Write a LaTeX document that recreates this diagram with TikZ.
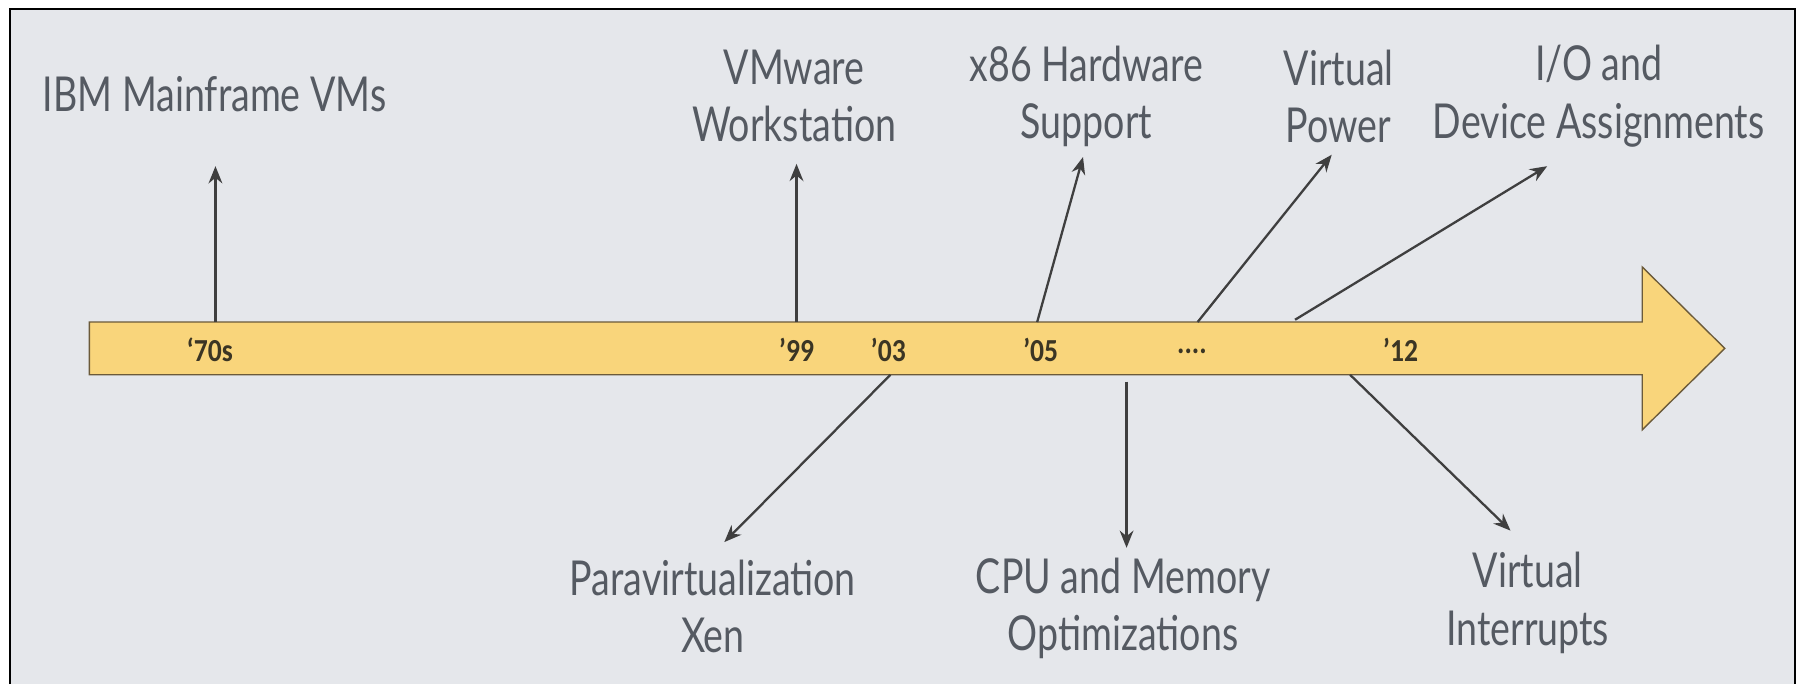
\documentclass[tikz,border=0pt]{standalone}
\usepackage{fontspec}
\setmainfont{Lato}[FakeStretch=0.78]
\newfontfamily\tickfont{Carlito}[FakeStretch=0.86]
\usetikzlibrary{arrows.meta}
\definecolor{bgc}{HTML}{E5E7EB}
\definecolor{barfill}{HTML}{F9D57B}
\definecolor{barline}{HTML}{6B5A3A}
\definecolor{labc}{HTML}{555A62}
\definecolor{conc}{HTML}{3F3F3F}
\definecolor{tickc}{HTML}{3B3524}
\tikzset{
  lab/.style={text=labc, align=center, inner sep=0pt, font=\fontsize{21}{25}\selectfont},
  ticklab/.style={text=tickc, inner sep=0pt, font=\tickfont\bfseries\fontsize{14}{16}\selectfont},
  conn/.style={draw=conc, line width=1pt, -{Stealth[length=7.5pt,width=6pt]}}
}
\begin{document}
\begin{tikzpicture}[x=0.5pt,y=-0.5pt]
\useasboundingbox (0,0) rectangle (1568,599);
\fill[white] (0,0) rectangle (1568,599);
\fill[bgc] (9,8) rectangle (1566,597);
\draw[black, line width=1pt] (9,597) -- (9,8) -- (1566,8) -- (1566,597);
% timeline arrow
\draw[barline, fill=barfill, line width=0.6pt, line join=miter]
  (78,281) -- (1433,281) -- (1433,233) -- (1505,304) -- (1433,375) -- (1433,327) -- (78,327) -- cycle;
% tick labels
\node[ticklab] (k70) at (183,305) {‘70s};
\node[ticklab] (k99) at (695,305) {’99};
\node[ticklab] (k03) at (775,305) {’03};
\node[ticklab] (k05) at (908,305) {’05};
\node[ticklab] (kdots) at (1040,307) {....};
\node[ticklab] (k12) at (1222,305) {’12};
% labels
\node[lab, anchor=west] (ibm) at (37,82) {IBM Mainframe VMs};
\node[lab] (vmw) at (693,84) {VMware\\Workstation};
\node[lab] (x86) at (948,84) {x86 Hardware\\Support};
\node[lab] (vp) at (1168,84) {Virtual\\Power};
\node[lab] (io) at (1395,84) {I/O and\\Device Assignments};
\node[lab] (xen) at (622,529) {Paravirtualization\\Xen};
\node[lab] (cpu) at (980,531) {CPU and Memory\\Optimizations};
\node[lab] (vi) at (1333,526) {Virtual\\Interrupts};
% connector end points
\coordinate (s70) at (188,281);  \coordinate (e70) at (188,145);
\coordinate (s99) at (695,281);  \coordinate (e99) at (695,143);
\coordinate (s05) at (905,281);  \coordinate (e05) at (945,137);
\coordinate (sd) at (1045,281);  \coordinate (ed) at (1162,135);
\coordinate (sio) at (1130,279); \coordinate (eio) at (1350,145);
\coordinate (s03) at (777,327);  \coordinate (e03) at (632,473);
\coordinate (scpu) at (983,333); \coordinate (ecpu) at (983,478);
\coordinate (s12) at (1178,327); \coordinate (e12) at (1318,463);
\draw[conn] (s70) -- (e70);
\draw[conn] (s99) -- (e99);
\draw[conn] (s05) -- (e05);
\draw[conn] (sd) -- (ed);
\draw[conn] (sio) -- (eio);
\draw[conn] (s03) -- (e03);
\draw[conn] (scpu) -- (ecpu);
\draw[conn] (s12) -- (e12);
\end{tikzpicture}
\end{document}
